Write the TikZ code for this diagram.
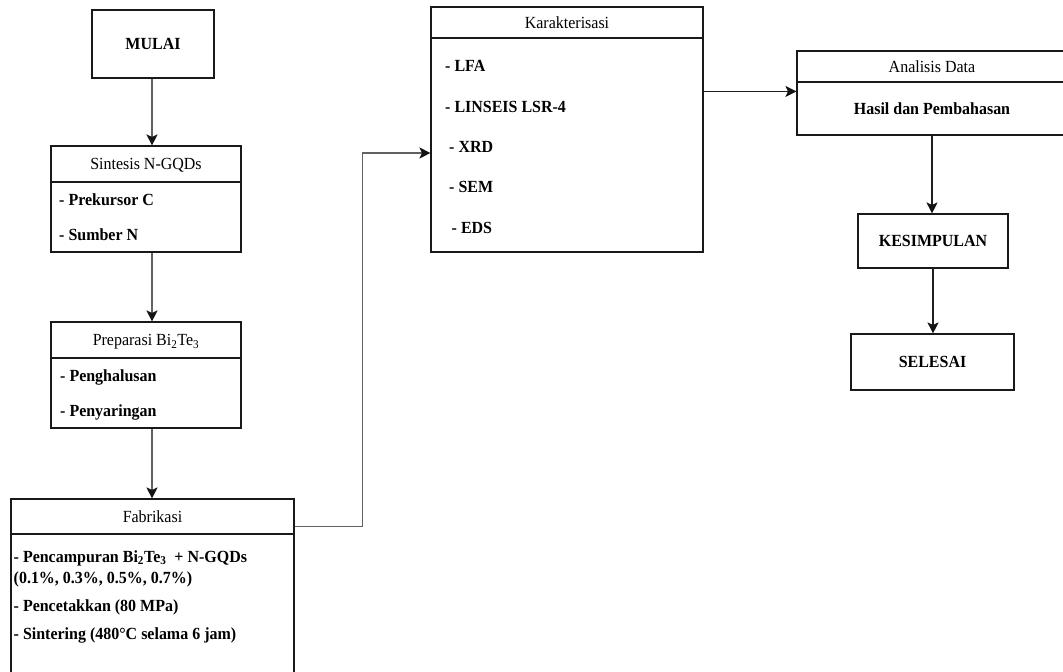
\documentclass[tikz,border=0pt]{standalone}
\usepackage{fontspec}
\setmainfont[FakeStretch=0.94]{Liberation Serif}
\usetikzlibrary{arrows.meta}
\begin{document}
\begin{tikzpicture}[x=1pt,y=-1pt,
  box/.style={draw=black!90, line width=1.1pt, inner sep=0pt, text height=11pt, text depth=0pt, align=center, font=\fontsize{17}{20}\selectfont},
  boldbox/.style={box, font=\fontsize{17}{20}\selectfont\bfseries},
  item/.style={anchor=base west, inner sep=0pt, font=\fontsize{17}{20}\selectfont\bfseries},
  link/.style={draw=black!62, line width=1.5pt, -{Stealth[length=11pt,width=11pt,inset=2.5pt,color=black!92]}},
  linkdk/.style={link, draw=black!88, line width=1.3pt}]
\useasboundingbox (0,0) rectangle (1063,672);
\clip (0,0) rectangle (1063,672);
\fill[white] (0,0) rectangle (1063,672);

% MULAI
\node[boldbox, minimum width=122pt, minimum height=68pt] (mulai) at (153,44) {MULAI};

% Sintesis
\node[box, minimum width=190pt, minimum height=36pt] (sinH) at (146,164) {Sintesis N-GQDs};
\node[box, minimum width=190pt, minimum height=70pt] (sinB) at (146,217) {};
\node[item] (sin1) at (59,205) {- Prekursor C};
\node[item] (sin2) at (59,240) {- Sumber N};

% Preparasi
\node[box, minimum width=190pt, minimum height=36pt] (prepH) at (146,340) {Preparasi Bi\textsubscript{2}Te\textsubscript{3}};
\node[box, minimum width=190pt, minimum height=70pt] (prepB) at (146,393) {};
\node[item] (prep1) at (60,381) {- Penghalusan};
\node[item] (prep2) at (60,416) {- Penyaringan};

% Fabrikasi
\node[box, minimum width=283pt, minimum height=35pt] (fabH) at (152.5,516.5) {Fabrikasi};
\node[box, minimum width=283pt, minimum height=156pt] (fabB) at (152.5,612) {};
\node[item] (fab1) at (13.5,562) {- Pencampuran Bi\textsubscript{2}Te\textsubscript{3}\ \ + N-GQDs};
\node[item] (fab2) at (13.5,583) {(0.1\%, 0.3\%, 0.5\%, 0.7\%)};
\node[item] (fab3) at (13.5,611) {- Pencetakkan (80 MPa)};
\node[item] (fab4) at (13.5,639) {- Sintering (480°C selama 6 jam)};

% Karakterisasi
\node[box, minimum width=272pt, minimum height=31pt] (karH) at (567,22.5) {Karakterisasi};
\node[box, minimum width=272pt, minimum height=214pt] (karB) at (567,145) {};
\node[item] (kar1) at (445,71) {- LFA};
\node[item] (kar2) at (445,112) {- LINSEIS LSR-4};
\node[item] (kar3) at (449,152) {- XRD};
\node[item] (kar4) at (449,192) {- SEM};
\node[item] (kar5) at (451.5,233) {- EDS};

% Analisis Data
\node[box, minimum width=270pt, minimum height=31pt] (anaH) at (932,66.5) {Analisis Data};
\node[boldbox, minimum width=270pt, minimum height=53pt] (anaB) at (932,108.5) {Hasil dan Pembahasan};

% Kesimpulan / Selesai
\node[boldbox, minimum width=150pt, minimum height=54pt] (kes) at (933,241) {KESIMPULAN};
\node[boldbox, minimum width=163pt, minimum height=56pt] (sel) at (932.5,362) {SELESAI};

% connectors
\draw[link] ([xshift=-1pt]mulai.south) -- ([xshift=-1pt]mulai.south |- sinH.north);
\draw[link] ([xshift=-1pt]mulai.south |- sinB.south) -- ([xshift=-1pt]mulai.south |- prepH.north);
\draw[link] ([xshift=-1pt]mulai.south |- prepB.south) -- ([xshift=-1pt]mulai.south |- fabH.north);
\draw[link] ([yshift=8pt]fabH.south east) -- ++(68,0) |- ([yshift=-8pt]karB.west);
\draw[linkdk] ([yshift=-54pt]karB.north east) -- ([yshift=-54pt]karB.north east -| anaB.west);
\draw[linkdk] (anaB.south) -- (anaB.south |- kes.north);
\draw[linkdk] (kes.south) -- (kes.south |- sel.north);
\end{tikzpicture}
\end{document}
